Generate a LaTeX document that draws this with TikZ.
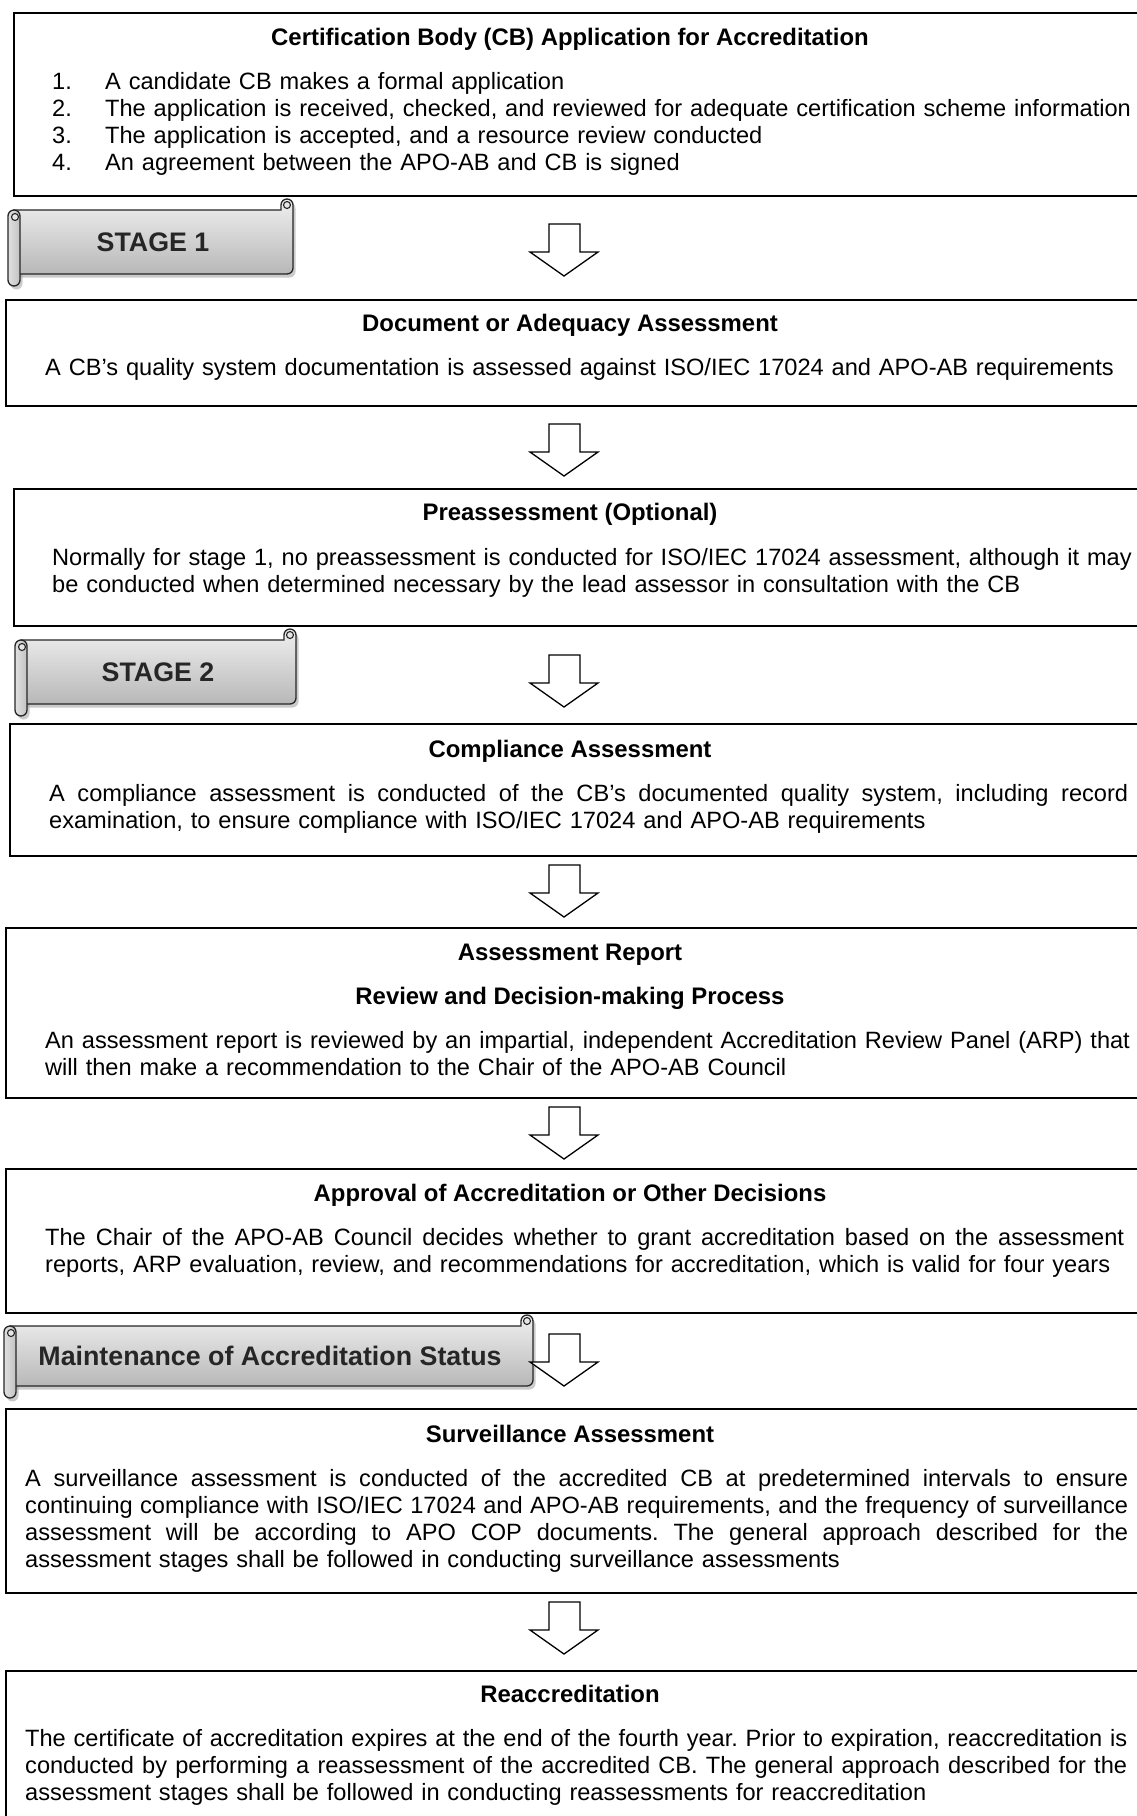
\documentclass[tikz,border=0pt]{standalone}
\usepackage{fontspec}
\setmainfont{Liberation Sans}
\frenchspacing
\newcommand\jl[2]{\makebox[#1][s]{\spaceskip=0.2778em plus 1em minus 0.05em\relax #2}}
\newcommand\numb[1]{\makebox[53pt][l]{#1}}
\newcommand\blockarrow[1]{%
  \draw[barrowst] (549,#1) -- (580,#1) -- (580,{#1+28}) -- (598,{#1+28}) -- (564,{#1+52}) -- (530,{#1+28}) -- (549,{#1+28}) -- cycle;}
\newcommand\scrollbanner[6]{% l r ct bt bb rb
  \begin{scope}[shift={(2.5,3.5)}]
    \fill[black!40, opacity=0.5]
      ({#1+6},#4) -- ({#2-12},#4) -- ({#2-12},{#3+6})
      .. controls ({#2-12},{#3+2.7}) and ({#2-9.3},#3) .. ({#2-6},#3)
      .. controls ({#2-2.7},#3) and (#2,{#3+2.7}) .. (#2,{#3+6})
      -- (#2,{#5-6}) .. controls (#2,{#5-2.7}) and ({#2-2.7},#5) .. ({#2-6},#5)
      -- ({#1+6},#5) -- cycle;
    \fill[black!40, opacity=0.5]
      (#1,{#4+6}) .. controls (#1,{#4+2.7}) and ({#1+2.7},#4) .. ({#1+6},#4)
      .. controls ({#1+9.3},#4) and ({#1+12},{#4+2.7}) .. ({#1+12},{#4+6})
      -- ({#1+12},{#6-6}) .. controls ({#1+12},{#6-2.7}) and ({#1+9.3},#6) .. ({#1+6},#6)
      .. controls ({#1+2.7},#6) and (#1,{#6-2.7}) .. (#1,{#6-6}) -- cycle;
  \end{scope}
  \draw[scrollst]
      ({#1+6},#4) -- ({#2-12},#4) -- ({#2-12},{#3+6})
      .. controls ({#2-12},{#3+2.7}) and ({#2-9.3},#3) .. ({#2-6},#3)
      .. controls ({#2-2.7},#3) and (#2,{#3+2.7}) .. (#2,{#3+6})
      -- (#2,{#5-6}) .. controls (#2,{#5-2.7}) and ({#2-2.7},#5) .. ({#2-6},#5)
      -- ({#1+6},#5) -- cycle;
  \draw[rollst]
      (#1,{#4+6}) .. controls (#1,{#4+2.7}) and ({#1+2.7},#4) .. ({#1+6},#4)
      .. controls ({#1+9.3},#4) and ({#1+12},{#4+2.7}) .. ({#1+12},{#4+6})
      -- ({#1+12},{#6-6}) .. controls ({#1+12},{#6-2.7}) and ({#1+9.3},#6) .. ({#1+6},#6)
      .. controls ({#1+2.7},#6) and (#1,{#6-2.7}) .. (#1,{#6-6}) -- cycle;
  \draw[curlst] ({#1+7},{#4+7}) circle[radius=3.5pt];
  \draw[curlst] ({#2-6},{#3+6}) circle[radius=3.5pt];
}
\tikzset{
  boxst/.style={draw=black, line width=2pt, inner sep=0pt, anchor=north west},
  ttlst/.style={anchor=base, inner sep=0pt, font=\fontsize{23.9}{27.3}\selectfont\bfseries},
  bodyst/.style={anchor=base west, inner sep=0pt, align=left, font=\fontsize{23.6}{27.3}\selectfont},
  bantextst/.style={inner sep=0pt, font=\fontsize{26.8}{30}\selectfont\bfseries, text=black!85},
  barrowst/.style={draw=black, line width=1.3pt, fill=white, line join=miter},
  scrollst/.style={draw=black!85, line width=1.3pt, top color=black!6, bottom color=black!28},
  rollst/.style={draw=black!85, line width=1.3pt, left color=black!12, right color=black!24},
  curlst/.style={draw=black!85, line width=1.1pt, fill=black!10},
}
\begin{document}
\begin{tikzpicture}[x=1pt, y=-1pt]
\useasboundingbox[fill=white] (0,0) rectangle (1136,1816);

% boxes
\node[boxst, minimum width=1127pt, minimum height=183pt] (b1) at (13,12) {};
\node[boxst, minimum width=1135pt, minimum height=106pt] (b2) at (5,299) {};
\node[boxst, minimum width=1127pt, minimum height=137pt] (b3) at (13,488) {};
\node[boxst, minimum width=1131pt, minimum height=132pt] (b4) at (9,723) {};
\node[boxst, minimum width=1135pt, minimum height=170pt] (b5) at (5,927) {};
\node[boxst, minimum width=1135pt, minimum height=144pt] (b6) at (5,1168) {};
\node[boxst, minimum width=1135pt, minimum height=184pt] (b7) at (5,1408) {};
\node[boxst, minimum width=1135pt, minimum height=180pt] (b8) at (5,1670) {};

% box 1
\node[ttlst] (t1) at (570,45) {Certification Body (CB) Application for Accreditation};
\node[bodyst, text width=1100pt] (x1) at (52,89) {\numb{1.}A candidate CB makes a formal application\\
\numb{2.}The application is received, checked, and reviewed for adequate certification scheme information\\
\numb{3.}The application is accepted, and a resource review conducted\\
\numb{4.}An agreement between the APO-AB and CB is signed};

% box 2
\node[ttlst] (t2) at (570,331) {Document or Adequacy Assessment};
\node[bodyst, text width=1100pt] (x2) at (45,375) {A CB’s quality system documentation is assessed against ISO/IEC 17024 and APO-AB requirements};

% box 3
\node[ttlst] (t3) at (570,520) {Preassessment (Optional)};
\node[bodyst, text width=1100pt] (x3) at (52,565) {Normally for stage 1, no preassessment is conducted for ISO/IEC 17024 assessment, although it may\\
be conducted when determined necessary by the lead assessor in consultation with the CB};

% box 4
\node[ttlst] (t4) at (570,757) {Compliance Assessment};
\node[bodyst, text width=1100pt] (x4) at (49,801) {\jl{1079pt}{A compliance assessment is conducted of the CB’s documented quality system, including record}\\
examination, to ensure compliance with ISO/IEC 17024 and APO-AB requirements};

% box 5
\node[ttlst] (t5a) at (570,960) {Assessment Report};
\node[ttlst] (t5b) at (570,1004) {Review and Decision-making Process};
\node[bodyst, text width=1100pt] (x5) at (45,1048) {An assessment report is reviewed by an impartial, independent Accreditation Review Panel (ARP) that\\
will then make a recommendation to the Chair of the APO-AB Council};

% box 6
\node[ttlst] (t6) at (570,1201) {Approval of Accreditation or Other Decisions};
\node[bodyst, text width=1100pt] (x6) at (45,1245) {\jl{1079pt}{The Chair of the APO-AB Council decides whether to grant accreditation based on the assessment}\\
reports, ARP evaluation, review, and recommendations for accreditation, which is valid for four years};

% box 7
\node[ttlst] (t7) at (570,1442) {Surveillance Assessment};
\node[bodyst, text width=1110pt] (x7) at (25,1486) {\jl{1103pt}{A surveillance assessment is conducted of the accredited CB at predetermined intervals to ensure}\\
\jl{1103pt}{continuing compliance with ISO/IEC 17024 and APO-AB requirements, and the frequency of surveillance}\\
\jl{1103pt}{assessment will be according to APO COP documents. The general approach described for the}\\
assessment stages shall be followed in conducting surveillance assessments};

% box 8
\node[ttlst] (t8) at (570,1702) {Reaccreditation};
\node[bodyst, text width=1110pt] (x8) at (25,1746) {\jl{1102pt}{The certificate of accreditation expires at the end of the fourth year. Prior to expiration, reaccreditation is}\\
\jl{1102pt}{conducted by performing a reassessment of the accredited CB. The general approach described for the}\\
assessment stages shall be followed in conducting reassessments for reaccreditation};

% banners
\scrollbanner{8}{293}{199}{210}{274}{286}
\node[bantextst] (s1) at (153,242) {STAGE 1};
\scrollbanner{15}{296}{629}{640}{704}{716}
\node[bantextst] (s2) at (158,672) {STAGE 2};
\scrollbanner{4}{533}{1315}{1326}{1386}{1398}
\node[bantextst] (s3) at (270,1356) {Maintenance of Accreditation Status};

% arrows
\blockarrow{224}
\blockarrow{424}
\blockarrow{655}
\blockarrow{865}
\blockarrow{1107}
\blockarrow{1334}
\blockarrow{1602}
\end{tikzpicture}
\end{document}
